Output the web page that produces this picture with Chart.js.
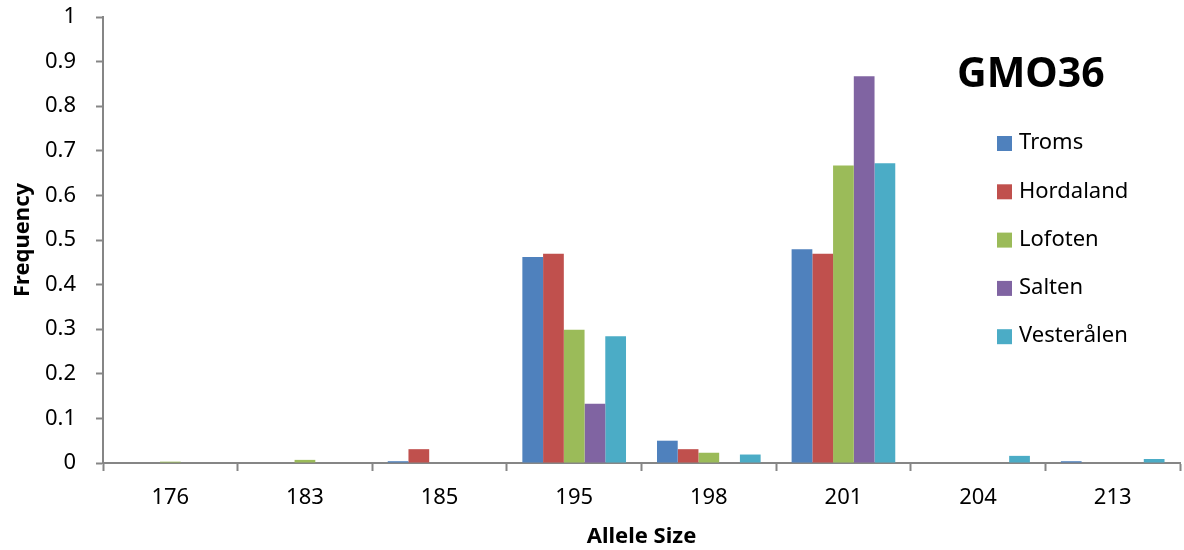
<!DOCTYPE html>
<html>
<head>
<meta charset="utf-8">
<script src="https://cdn.jsdelivr.net/npm/chart.js@4.4.0/dist/chart.umd.min.js"></script>
<style>
  html, body { margin: 0; padding: 0; background: #ffffff; }
  #wrap { width: 1184px; height: 550px; }
</style>
</head>
<body>
<div id="wrap"><canvas id="alleleChart" width="1184" height="550"></canvas></div>
<script>
// ---------------------- Data ----------------------
const alleleSizes = ['176', '183', '185', '195', '198', '201', '204', '213'];

const troms      = [0,     0,     0.004, 0.462, 0.050, 0.479, 0,     0.004];
const hordaland  = [0,     0,     0.031, 0.469, 0.031, 0.469, 0,     0];
const lofoten    = [0.003, 0.007, 0,     0.299, 0.023, 0.667, 0,     0];
const salten     = [0,     0,     0,     0.133, 0,     0.867, 0,     0];
const vesteralen = [0,     0,     0,     0.284, 0.019, 0.672, 0.016, 0.009];

const yTicks = [0, 0.1, 0.2, 0.3, 0.4, 0.5, 0.6, 0.7, 0.8, 0.9, 1];

const seriesNames  = ['Troms', 'Hordaland', 'Lofoten', 'Salten', 'Vesterålen'];
const seriesColors = ['#4F81BD', '#C0504D', '#9BBB59', '#8064A2', '#4BACC6'];
const seriesData   = [troms, hordaland, lofoten, salten, vesteralen];

const axisColor = '#868686';
const fontFamily = "'Noto Sans', 'Open Sans', sans-serif";

// ---------------------- Title + legend inside the plot ----------------------
const overlayPlugin = {
  id: 'overlay',
  afterDraw(chart) {
    const ctx = chart.ctx;
    const area = chart.chartArea;
    ctx.save();

    // big marker name
    ctx.fillStyle = '#000000';
    ctx.font = "bold 41px " + fontFamily;
    ctx.textAlign = 'left';
    ctx.textBaseline = 'middle';
    ctx.fillText('GMO36', area.right - 223, area.top + 58);

    // legend, one entry per row
    ctx.font = "22px " + fontFamily;
    for (let i = 0; i < seriesNames.length; i++) {
      const y = area.top + 126 + i * 48.3;
      ctx.fillStyle = seriesColors[i];
      ctx.fillRect(area.right - 183, y - 7, 15, 15);
      ctx.fillStyle = '#000000';
      ctx.fillText(seriesNames[i], area.right - 161, y);
    }
    ctx.restore();
  }
};

// ---------------------- Chart ----------------------
const ctx = document.getElementById('alleleChart');
const datasets = [];
for (let i = 0; i < seriesNames.length; i++) {
  datasets.push({
    label: seriesNames[i],
    data: seriesData[i],
    backgroundColor: seriesColors[i],
    borderWidth: 0,
    categoryPercentage: 0.77,
    barPercentage: 1.0
  });
}

new Chart(ctx, {
  type: 'bar',
  data: {
    labels: alleleSizes,
    datasets: datasets
  },
  options: {
    responsive: false,
    animation: false,
    devicePixelRatio: 1,
    layout: {
      padding: { top: 17, right: 4, left: 0, bottom: 0 }
    },
    plugins: {
      legend: { display: false },
      title: { display: false },
      tooltip: { enabled: false }
    },
    scales: {
      x: {
        grid: {
          display: true,
          drawOnChartArea: false,
          offset: true,
          color: axisColor,
          tickLength: 8,
          tickWidth: 2
        },
        border: { color: axisColor, width: 2 },
        ticks: {
          color: '#000000',
          padding: 14,
          font: { family: fontFamily, size: 22 }
        },
        title: {
          display: true,
          text: 'Allele Size',
          color: '#000000',
          font: { family: fontFamily, size: 22, weight: 'bold' },
          padding: { top: 11, bottom: 0 }
        },
        afterFit(scale) {
          scale.height = 87;
          scale.paddingLeft = 0;
          scale.paddingRight = 0;
        }
      },
      y: {
        min: 0,
        max: 1,
        afterBuildTicks(scale) {
          scale.ticks = yTicks.map(v => ({ value: v }));
        },
        grid: {
          display: true,
          drawOnChartArea: false,
          color: axisColor,
          tickLength: 7,
          tickWidth: 2
        },
        border: { color: axisColor, width: 2 },
        ticks: {
          color: '#000000',
          padding: 20,
          font: { family: fontFamily, size: 22 },
          callback: function(value) { return String(Math.round(value * 10) / 10); }
        },
        title: {
          display: true,
          text: 'Frequency',
          color: '#000000',
          font: { family: fontFamily, size: 22, weight: 'bold' },
          padding: { top: 10, bottom: 0 }
        },
        afterFit(scale) {
          scale.width = 103;
          scale.paddingTop = 0;
          scale.paddingBottom = 0;
        }
      }
    }
  },
  plugins: [overlayPlugin]
});
</script>
</body>
</html>
